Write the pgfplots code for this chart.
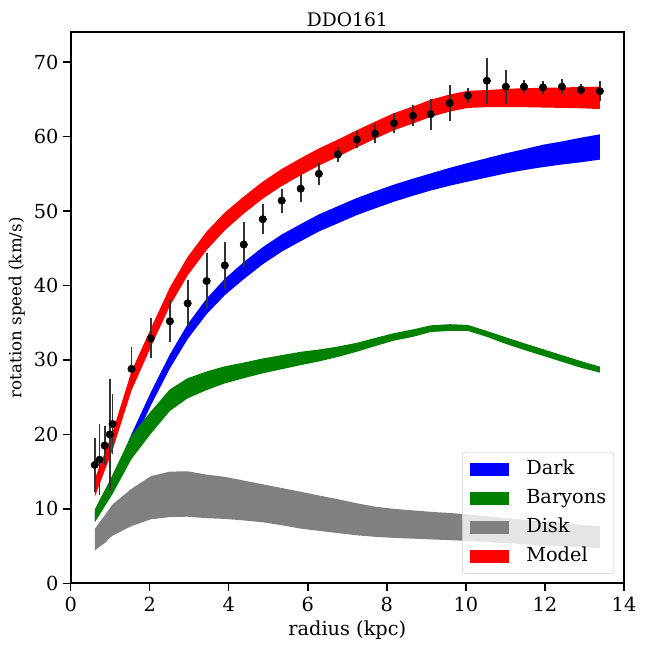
\documentclass[border=0pt]{standalone}
\usepackage{fontspec}
\setmainfont{DejaVu Serif}
\usepackage{pgfplots}
\usepackage{pgfplotstable}
\pgfplotsset{compat=1.18}
\usepgfplotslibrary{fillbetween}
\definecolor{mplgreen}{HTML}{008000}
\definecolor{mplgray}{HTML}{808080}

\pgfplotstableread{
x lo hi
0.61 8.3 9.6
0.73 9.4 10.8
0.86 10.6 12.1
0.99 11.9 13.4
1.06 12.6 14.1
1.54 18.35 20.05
2.03 23.9 25.7
2.51 28.85 30.75
2.96 32.8 34.8
3.44 36.15 38.25
3.90 38.7 40.9
4.38 40.85 43.15
4.86 42.85 45.15
5.34 44.55 46.85
5.82 45.95 48.25
6.28 47.25 49.55
6.76 48.35 50.65
7.24 49.45 51.75
7.70 50.35 52.65
8.18 51.25 53.55
8.66 52.05 54.35
9.11 52.75 55.05
9.59 53.4 55.8
10.05 53.95 56.45
10.53 54.5 57.1
11.01 55.05 57.75
11.47 55.5 58.3
11.95 55.9 58.9
12.43 56.25 59.35
12.91 56.55 59.85
13.39 56.9 60.3
}\darktab

\pgfplotstableread{
x lo hi
0.61 8.2 9.9
0.73 9.2 11.2
0.86 10.3 12.5
0.99 11.4 13.8
1.06 12.0 14.6
1.54 16.7 19.9
2.03 20.1 23.1
2.51 23.15 26.05
2.96 24.85 27.55
3.44 25.95 28.45
3.90 26.85 29.15
4.38 27.55 29.65
4.86 28.2 30.2
5.34 28.75 30.65
5.82 29.3 31.1
6.28 29.8 31.4
6.76 30.4 31.8
7.24 31.1 32.3
7.70 31.85 32.95
8.18 32.6 33.6
8.66 33.1 34.1
9.11 33.75 34.65
9.59 33.9 34.8
10.05 33.9 34.7
10.53 33.1 33.9
11.01 32.15 33.05
11.47 31.35 32.25
11.95 30.55 31.45
12.43 29.75 30.65
12.91 28.95 29.85
13.39 28.3 29.1
}\baryontab

\pgfplotstableread{
x lo hi
0.61 4.4 7.3
0.73 4.9 8.2
0.86 5.4 9.1
0.99 6.1 10.1
1.06 6.4 10.6
1.54 7.7 12.7
2.03 8.6 14.4
2.51 8.9 15.0
2.96 8.95 15.05
3.44 8.75 14.6
3.90 8.65 14.3
4.38 8.45 13.8
4.86 8.2 13.3
5.34 7.8 12.8
5.82 7.35 12.3
6.28 7.05 11.8
6.76 6.75 11.3
7.24 6.45 10.75
7.70 6.25 10.3
8.18 6.1 10.0
8.66 6.0 9.8
9.11 5.9 9.6
9.59 5.8 9.45
10.05 5.7 9.25
10.53 5.55 9.0
11.01 5.4 8.75
11.47 5.25 8.55
11.95 5.1 8.3
12.43 5.0 8.1
12.91 4.85 7.85
13.39 4.75 7.65
}\disktab

\pgfplotstableread{
x lo hi
0.61 11.6 14.0
0.73 13.3 15.7
0.86 15.1 17.5
0.99 16.9 19.3
1.06 17.9 20.3
1.54 25.9 28.5
2.03 31.75 34.25
2.51 37.25 39.75
2.96 41.35 43.85
3.44 44.75 47.25
3.90 47.4 49.8
4.38 49.65 51.95
4.86 51.65 53.95
5.34 53.35 55.65
5.82 54.8 57.1
6.28 56.1 58.4
6.76 57.3 59.6
7.24 58.55 60.85
7.70 59.7 62.0
8.18 60.85 63.15
8.66 61.75 64.05
9.11 62.65 64.95
9.59 63.35 65.65
10.05 63.85 66.15
10.53 63.95 66.25
11.01 63.95 66.4
11.47 63.95 66.5
11.95 63.9 66.55
12.43 63.85 66.6
12.91 63.8 66.65
13.39 63.7 66.7
}\modeltab

\pgfplotstableread{
x y e
0.61 15.9 3.6
0.73 16.6 4.8
0.86 18.5 2.6
0.99 20.0 7.5
1.06 21.4 4.0
1.54 28.8 2.9
2.03 32.9 2.7
2.51 35.2 2.8
2.96 37.6 3.1
3.44 40.6 3.7
3.90 42.7 3.2
4.38 45.5 3.0
4.86 48.9 2.0
5.34 51.4 1.6
5.82 53.0 1.8
6.28 55.0 1.5
6.76 57.6 1.0
7.24 59.6 1.2
7.70 60.4 1.3
8.18 61.8 1.3
8.66 62.8 1.4
9.11 63.0 2.1
9.59 64.5 2.4
10.05 65.5 1.0
10.53 67.5 3.1
11.01 66.7 2.3
11.47 66.7 0.9
11.95 66.6 0.9
12.43 66.7 1.0
12.91 66.3 0.7
13.39 66.1 1.3
}\datatab

\begin{document}
\begin{tikzpicture}
\begin{axis}[
  scale only axis,
  width=415pt, height=413.25pt,
  xmin=0, xmax=14, ymin=0, ymax=74,
  xtick={0,2,...,14}, ytick={0,10,...,70},
  xtick pos=bottom, ytick pos=left,
  tick align=outside,
  major tick length=5.6pt,
  tick style={black, line width=1.1pt},
  axis line style={line width=1.5pt},
  /pgf/number format/assume math mode=true,
  tick label style={font=\fontsize{14.5}{17}\selectfont},
  xticklabel style={yshift=-1pt},
  xlabel style={font=\fontsize{14.5}{17}\selectfont},
  ylabel style={font=\fontsize{12.5}{15}\selectfont},
  xlabel={radius (kpc)},
  ylabel={rotation speed (km/s)},
  title={DDO161},
  every axis title/.style={at={(0.5,1)}, anchor=base, yshift=4.2pt, font=\fontsize{14}{16}\selectfont},
  legend cell align=left,
  legend image code/.code={\fill[#1, draw=none, fill opacity=1, sharp corners] (0pt,-5pt) rectangle (29.25pt,5pt);},
  legend style={at={(0.982,0.0176)}, anchor=south east,
    draw=black!20, rounded corners=2pt, fill=white, fill opacity=0.8, text opacity=1,
    font=\fontsize{14.5}{17}\selectfont,
    nodes={inner sep=0pt, text height=10.5pt, text depth=3pt},
    row sep=8.3pt, column sep=13pt, inner xsep=5.7pt, inner ysep=6pt},
]
\addplot[name path=dlo, draw=none, forget plot] table[x=x,y=lo]{\darktab};
\addplot[name path=dhi, draw=none, forget plot] table[x=x,y=hi]{\darktab};
\addplot[fill=blue, draw=none, forget plot] fill between[of=dlo and dhi];

\addplot[name path=blo, draw=none, forget plot] table[x=x,y=lo]{\baryontab};
\addplot[name path=bhi, draw=none, forget plot] table[x=x,y=hi]{\baryontab};
\addplot[fill=mplgreen, draw=none, forget plot] fill between[of=blo and bhi];

\addplot[name path=klo, draw=none, forget plot] table[x=x,y=lo]{\disktab};
\addplot[name path=khi, draw=none, forget plot] table[x=x,y=hi]{\disktab};
\addplot[fill=mplgray, draw=none, forget plot] fill between[of=klo and khi];

\addplot[name path=mlo, draw=none, forget plot] table[x=x,y=lo]{\modeltab};
\addplot[name path=mhi, draw=none, forget plot] table[x=x,y=hi]{\modeltab};
\addplot[fill=red, draw=none, forget plot] fill between[of=mlo and mhi];

\addplot[only marks, mark=*, mark size=2.8pt, black, forget plot,
  error bars/.cd, y dir=both, y explicit, error mark=none,
  error bar style={line width=1.4pt, black!80}]
  table[x=x, y=y, y error=e]{\datatab};

\addlegendimage{fill=blue}
\addlegendentry{Dark}
\addlegendimage{fill=mplgreen}
\addlegendentry{Baryons}
\addlegendimage{fill=mplgray}
\addlegendentry{Disk}
\addlegendimage{fill=red}
\addlegendentry{Model}
\end{axis}
\pgfresetboundingbox
\path (current axis.south west) ++(-53pt,-48.5pt) rectangle ++(486pt,486pt);
\end{tikzpicture}
\end{document}
